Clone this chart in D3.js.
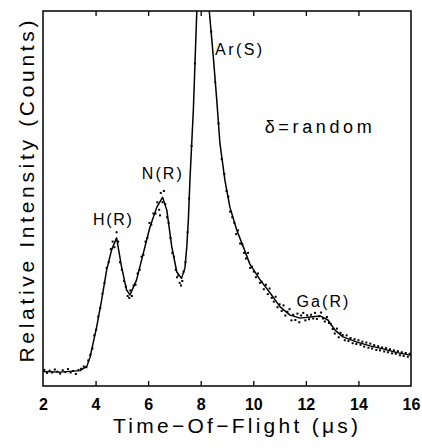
<!DOCTYPE html>
<html><head><meta charset="utf-8">
<script src="https://cdn.jsdelivr.net/npm/d3@7"></script>
<style>html,body{margin:0;padding:0;background:#fff;}svg{display:block;}</style>
</head><body>
<script>
// ---- data ----
const xTicks = [2, 4, 6, 8, 10, 12, 14, 16];
const fitTime = [2.0,2.65,3.41,3.67,3.79,4.04,4.23,4.42,4.61,4.80,4.99,5.18,5.31,5.56,5.82,6.07,6.33,6.55,6.71,6.90,7.09,7.27,7.40,7.47,7.53,7.59,7.72,7.85,8.05,8.15,8.33,8.48,8.61,8.73,8.92,9.11,9.37,9.62,9.87,10.26,10.64,11.02,11.40,11.78,12.16,12.54,12.84,13.11,13.41,13.95,14.44,14.93,15.47,15.92,16.0];
const fitCounts = [3.9,3.7,4.1,5.3,7.7,15.7,22.9,30.9,36.3,39.5,31.7,25.6,24.3,28.3,35.5,42.4,47.7,50.3,46.9,37.1,30.4,28.7,31.5,37.1,44.3,54.9,73.6,99.7,130,128,99.7,87.7,76.3,64.8,54.9,47.7,41.6,37.1,32.5,28.3,24.8,21.1,18.9,18.1,18.4,18.7,17.6,14.9,13.1,11.7,10.7,9.9,8.9,8.3,8.2];
const dotTime = [2.05,2.15,2.25,2.35,2.45,2.55,2.65,2.75,2.85,2.95,3.05,3.15,3.25,3.35,3.45,
 3.55,3.65,3.72,3.8,3.88,3.95,4.02,4.1,4.18,4.26,4.34,4.42,4.5,4.58,4.65,4.72,4.8,4.86,
 4.93,5.0,5.08,5.15,5.22,5.28,5.32,5.38,5.45,5.52,5.6,5.68,5.75,5.82,5.9,5.97,6.05,6.12,6.2,6.28,6.35,6.42,6.48,6.55,6.6,6.45,6.65,6.72,6.78,6.85,6.92,6.98,7.05,7.1,7.15,7.2,7.25,7.3,7.35,7.42,7.5,7.56,7.65,7.78,
 8.4,8.55,8.68,8.8,8.9,8.98,9.05,9.12,9.2,9.28,9.35,9.42,9.5,9.58,9.65,9.72,9.8,9.88,9.95,10.02,10.1,10.18,10.25,10.32,10.4,10.48,10.55,10.62,10.7,10.78,10.85,10.92,11.0,11.08,11.15,11.22,11.3,11.38,11.45,11.52,11.6,11.68,11.75,11.82,11.9,11.98,12.05,12.12,12.2,12.28,12.35,12.42,12.5,12.58,12.65,12.72,12.8,12.88,12.95,13.02,13.1,13.18,13.25,13.32,13.4,13.48,13.55,13.62,13.7,13.78,13.85,13.92,14.0,14.08,14.15,14.22,14.3,14.38,14.45,14.52,14.6,14.68,14.75,14.82,14.9,14.98,15.05,15.12,15.2,15.28,15.35,15.42,15.5,15.58,15.65,15.72,15.8,15.88,15.95];
const dotCounts = [4.3,3.5,4.1,3.6,4.4,3.8,3.3,4.2,3.7,4.5,3.6,4.0,3.2,4.3,4.6,
 5.2,5.0,6.8,8.3,10.0,13.5,15.0,18.5,20.8,24.6,27.5,31.5,33.0,36.5,38.5,37.0,41.0,38.5,
 33.0,31.0,28.0,26.5,24.0,23.5,25.5,24.0,26.8,27.0,30.0,31.0,34.5,35.0,38.5,39.5,43.5,43.0,46.0,46.0,49.0,47.0,51.5,49.0,52.0,45.5,48.5,45.0,43.5,39.5,35.5,34.5,31.0,29.0,29.5,27.5,26.8,28.0,30.5,33.0,41.0,50.0,64.0,86.0,
 94.5,81.0,70.0,60.5,56.5,52.0,50.5,46.5,45.0,43.5,40.5,41.5,38.0,37.8,35.5,34.0,35.5,31.5,31.8,30.5,29.0,30.0,27.5,27.8,25.8,27.0,24.5,26.0,23.5,22.5,23.8,21.0,21.8,20.0,21.5,18.8,19.8,20.5,17.5,19.0,17.6,19.3,17.0,18.8,19.5,17.5,18.9,17.8,19.0,18.0,19.5,17.9,18.6,19.6,18.0,17.2,18.4,16.8,16.5,15.2,14.0,15.3,13.0,14.2,13.6,12.2,13.5,12.0,12.8,11.4,12.5,11.2,12.2,11.0,11.8,10.5,11.6,10.2,11.3,10.0,10.9,9.6,10.6,9.5,10.3,9.2,10.1,9.0,9.8,8.7,9.5,8.6,9.3,8.2,9.0,8.0,8.8,7.8,8.6];
const peakLabels = ["H(R)", "N(R)", "Ar(S)", "Ga(R)"];
const peakLabelTime = [4.64, 6.52, 9.44, 12.63];
const peakLabelCounts = [42.9, 55.2, 88.3, 21.1];
const noteText = "δ=random";
const xTitle = "Time\u2212Of\u2212Flight (\u03bcs)";
const yTitle = "Relative Intensity (Counts)";

// ---- layout ----
const W = 422, H = 448;
const L = 43, R = 411, T = 11, B = 386;
const font = "'Liberation Sans', Arial, sans-serif";

const svg = d3.select("body").append("svg").attr("width", W).attr("height", H);
const x = d3.scaleLinear().domain([2, 16]).range([L, R]);
const y = d3.scaleLinear().domain([0, 100]).range([B, T]);

svg.append("defs").append("clipPath").attr("id", "clip")
  .append("rect").attr("x", L).attr("y", T).attr("width", R - L).attr("height", B - T);

const plot = svg.append("g").attr("clip-path", "url(#clip)");

const line = d3.line().x((d, i) => x(fitTime[i])).y(d => y(d));
plot.append("path").datum(fitCounts).attr("d", line)
  .attr("fill", "none").attr("stroke", "#000").attr("stroke-width", 1.5).attr("stroke-linejoin", "round");

plot.selectAll("rect.dot").data(dotCounts).join("rect").attr("class", "dot")
  .attr("x", (d, i) => x(dotTime[i]) - 1).attr("y", d => y(d) - 1)
  .attr("width", 2).attr("height", 2).attr("fill", "#000");

// frame
svg.append("rect").attr("x", L).attr("y", T).attr("width", R - L).attr("height", B - T)
  .attr("fill", "none").attr("stroke", "#000").attr("stroke-width", 1.5);

// bottom axis (inward ticks)
const xb = d3.axisBottom(x).tickValues(xTicks).tickSize(-5).tickPadding(13).tickFormat(d3.format("d"));
const gx = svg.append("g").attr("transform", `translate(0,${B})`).call(xb);
gx.select(".domain").remove();
gx.selectAll(".tick line").attr("stroke", "#000").attr("stroke-width", 1.3);
gx.selectAll(".tick text").attr("font-family", font).attr("font-size", 16).attr("font-weight", "bold")
  .attr("fill", "#000").attr("dy", "0.71em");
gx.selectAll(".tick").filter(d => d === 2 || d === 16).select("line").remove();

const xt = d3.axisTop(x).tickValues(xTicks.filter(d => d > 2 && d < 16)).tickSize(-5).tickFormat("");
const gt = svg.append("g").attr("transform", `translate(0,${T})`).call(xt);
gt.select(".domain").remove();
gt.selectAll(".tick line").attr("stroke", "#000").attr("stroke-width", 1.3);

// titles
svg.append("text").attr("x", 235.5).attr("y", 433).attr("text-anchor", "middle")
  .attr("font-family", font).attr("font-size", 21).attr("textLength", 245).attr("lengthAdjust", "spacing")
  .attr("fill", "#000").text(xTitle);
svg.append("text").attr("transform", "translate(34,191.5) rotate(-90)").attr("text-anchor", "middle")
  .attr("font-family", font).attr("font-size", 21).attr("textLength", 342).attr("lengthAdjust", "spacing")
  .attr("fill", "#000").text(yTitle);

// peak labels
const lw = [39, 40, 47, 52];
svg.selectAll("text.peak").data(peakLabels).join("text").attr("class", "peak")
  .attr("x", (d, i) => x(peakLabelTime[i])).attr("y", (d, i) => y(peakLabelCounts[i]))
  .attr("text-anchor", "middle").attr("font-family", font).attr("font-size", 16)
  .attr("textLength", (d, i) => lw[i]).attr("lengthAdjust", "spacing")
  .attr("fill", "#000").text(d => d);

svg.append("text").attr("x", x(12.47)).attr("y", y(67.5)).attr("text-anchor", "middle")
  .attr("font-family", font).attr("font-size", 18).attr("textLength", 107).attr("lengthAdjust", "spacing")
  .attr("fill", "#000").text(noteText);
</script>
</body></html>
